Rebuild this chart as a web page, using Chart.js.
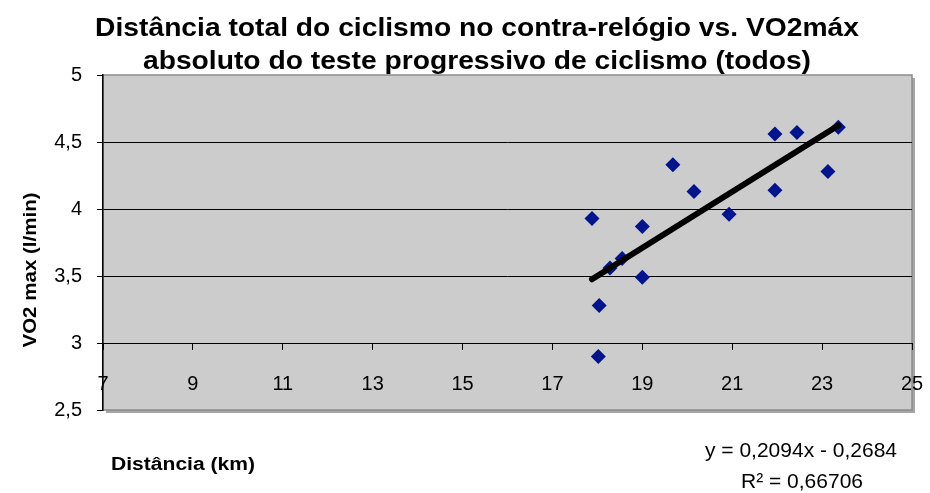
<!DOCTYPE html>
<html>
<head>
<meta charset="utf-8">
<script src="https://cdn.jsdelivr.net/npm/chart.js@4/dist/chart.umd.min.js"></script>
<style>
  body { margin: 0; background: #fff; }
  #chart { display: block; }
</style>
</head>
<body>
<canvas id="chart" width="930" height="493"></canvas>
<script>
// distancia (km) e VO2max (l/min) de cada atleta
var distancia = [17.88, 18.04, 18.02, 18.28, 18.55, 19.0, 19.0, 19.68, 20.15, 20.93, 21.95, 21.95, 22.44, 23.13, 23.36];
var vo2 = [3.93, 3.28, 2.90, 3.56, 3.63, 3.87, 3.49, 4.33, 4.13, 3.96, 4.56, 4.14, 4.57, 4.28, 4.61];

// linha de tendencia (Excel)
var slope = 0.2094;
var intercept = -0.2684;
var equacao = ["y = 0,2094x - 0,2684", "R\u00b2 = 0,66706"];

var titulo = ["Dist\u00e2ncia total do ciclismo no contra-rel\u00f3gio vs. VO2m\u00e1x",
              "absoluto do teste progressivo de ciclismo (todos)"];
var tituloX = "Dist\u00e2ncia (km)";
var tituloY = "VO2 max (l/min)";

var FONT = "'Liberation Sans', Arial, sans-serif";

var pontos = distancia.map(function(d, i) { return {x: d, y: vo2[i]}; });
var xMin = Math.min.apply(null, distancia);
var xMax = Math.max.apply(null, distancia);
var tendencia = [
    {x: xMin, y: slope * xMin + intercept},
    {x: xMax, y: slope * xMax + intercept}
];

function drawText(ctx, txt, x, y, font, sx, rot) {
    ctx.save();
    ctx.translate(x, y);
    if (rot) ctx.rotate(rot);
    ctx.scale(sx, 1);
    ctx.font = font;
    ctx.fillStyle = '#000';
    ctx.textAlign = 'center';
    ctx.textBaseline = 'alphabetic';
    ctx.fillText(txt, 0, 0);
    ctx.restore();
}

var plotBg = {
    id: 'plotBg',
    beforeDraw: function(chart) {
        var a = chart.chartArea;
        var ctx = chart.ctx;
        ctx.save();
        ctx.fillStyle = '#a6a6a6';
        ctx.fillRect(a.left + 3, a.top + 3, a.right - a.left, a.bottom - a.top);
        ctx.fillStyle = '#cccccc';
        ctx.fillRect(a.left, a.top, a.right - a.left, a.bottom - a.top);
        ctx.strokeStyle = '#8c8c8c';
        ctx.lineWidth = 1.5;
        ctx.strokeRect(a.left, a.top, a.right - a.left, a.bottom - a.top);
        ctx.restore();
    }
};

var textos = {
    id: 'textos',
    afterDraw: function(chart) {
        var ctx = chart.ctx;
        drawText(ctx, titulo[0], 477, 36, "bold 26.5px " + FONT, 1.065);
        drawText(ctx, titulo[1], 477, 69, "bold 26.5px " + FONT, 1.065);
        drawText(ctx, tituloY, 36, 270, "bold 18px " + FONT, 1.14, -Math.PI / 2);
        drawText(ctx, tituloX, 183, 470, "bold 18px " + FONT, 1.17);
        drawText(ctx, equacao[0], 801, 457, "21px " + FONT, 1);
        drawText(ctx, equacao[1], 802, 488, "21px " + FONT, 1);
    }
};

new Chart(document.getElementById('chart').getContext('2d'), {
    type: 'scatter',
    data: {
        datasets: [{
            type: 'line',
            data: tendencia,
            borderColor: '#000',
            borderWidth: 6,
            borderCapStyle: 'round',
            pointRadius: 0,
            fill: false,
            order: 0
        }, {
            data: pontos,
            pointStyle: 'rectRot',
            pointRadius: 7.5,
            backgroundColor: '#001490',
            borderColor: '#001490',
            borderWidth: 0,
            order: 1
        }]
    },
    options: {
        responsive: false,
        animation: false,
        layout: {
            padding: {top: 75, bottom: 83, left: 0, right: 18}
        },
        scales: {
            x: {
                type: 'linear',
                min: 7,
                max: 25,
                position: {y: 3},
                border: {display: true, color: '#000', width: 1},
                grid: {drawOnChartArea: false, drawTicks: true, tickLength: 6, tickColor: '#000'},
                ticks: {
                    stepSize: 2,
                    autoSkip: false,
                    maxRotation: 0,
                    padding: 23,
                    color: '#000',
                    font: {family: FONT, size: 20}
                },
                afterFit: function(scale) {
                    scale.paddingLeft = 0;
                    scale.paddingRight = 0;
                }
            },
            y: {
                min: 2.5,
                max: 5,
                border: {display: true, color: '#000', width: 1.5},
                grid: {
                    color: function(c) {
                        var v = c.tick ? c.tick.value : null;
                        return (v === 2.5 || v === 5) ? 'rgba(0,0,0,0)' : '#000';
                    },
                    tickColor: '#000',
                    tickLength: 6
                },
                ticks: {
                    stepSize: 0.5,
                    padding: 15,
                    color: '#000',
                    font: {family: FONT, size: 20},
                    callback: function(v) { return String(v).replace('.', ','); }
                },
                afterFit: function(scale) { scale.width = 103; }
            }
        },
        plugins: {
            legend: {display: false},
            tooltip: {enabled: false}
        }
    },
    plugins: [plotBg, textos]
});
</script>
</body>
</html>
